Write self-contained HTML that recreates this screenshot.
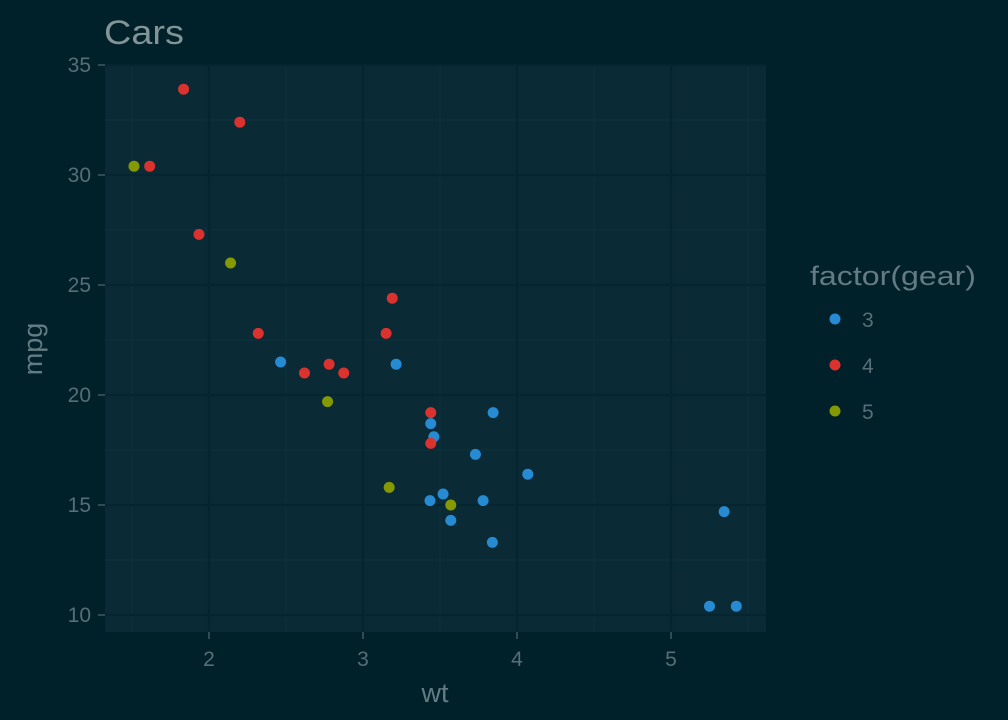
<!DOCTYPE html>
<html><head><meta charset="utf-8"><style>
body{margin:0;background:#00202a;}
svg{display:block;font-family:"Liberation Sans",sans-serif;}
</style></head><body>
<svg id="c" width="1008" height="720">
<rect x="0" y="0" width="1008" height="720" fill="#00202a"/>
<rect x="105" y="65" width="661" height="567" fill="#0a2a35"/>
<g id="grid"></g>
<g id="axes"></g>
<g id="pts"></g>
<text x="104" y="44" font-size="34" textLength="80" lengthAdjust="spacingAndGlyphs" fill="#839496">Cars</text>
<text x="435" y="702" font-size="27" fill="#657b83" text-anchor="middle">wt</text>
<text transform="translate(42,349) rotate(-90)" font-size="27" fill="#657b83" text-anchor="middle">mpg</text>
<g>
<text x="810" y="285" font-size="27" textLength="166" lengthAdjust="spacingAndGlyphs" fill="#657b83">factor(gear)</text>
<g id="leg"></g>
</g>
</svg>
<script>
const wt=[2.620,2.875,2.320,3.215,3.440,3.460,3.570,3.190,3.150,3.440,3.440,4.070,3.730,3.780,5.250,5.424,5.345,2.200,1.615,1.835,2.465,3.520,3.435,3.840,3.845,1.935,2.140,1.513,3.170,2.770,3.570,2.780];
const mpg=[21.0,21.0,22.8,21.4,18.7,18.1,14.3,24.4,22.8,19.2,17.8,16.4,17.3,15.2,10.4,10.4,14.7,32.4,30.4,33.9,21.5,15.5,15.2,13.3,19.2,27.3,26.0,30.4,15.8,19.7,15.0,21.4];
const gear=[4,4,4,3,3,3,3,4,4,4,4,3,3,3,3,3,3,4,4,4,3,3,3,3,3,4,5,5,5,5,5,4];
const xTicks=[2,3,4,5];
const yTicks=[10,15,20,25,30,35];
const levels=[3,4,5];
const colors={3:"#268bd2",4:"#dc322f",5:"#859900"};
const X=v=>154*v-99, Y=v=>615-22*(v-10);
const NS="http://www.w3.org/2000/svg";
function mk(t,a,p){const e=document.createElementNS(NS,t);for(const k in a)e.setAttribute(k,a[k]);p.appendChild(e);return e;}
const grid=document.getElementById('grid'),axes=document.getElementById('axes'),pts=document.getElementById('pts'),leg=document.getElementById('leg');
[1.5,2.5,3.5,4.5,5.5].forEach(v=>{const l=mk('line',{x1:X(v),x2:X(v),y1:65,y2:632,stroke:'#0e313c','stroke-width':1.2},grid);

});
[12.5,17.5,22.5,27.5,32.5].forEach(v=>{const l=mk('line',{x1:105,x2:766,y1:Y(v),y2:Y(v),stroke:'#0e313c','stroke-width':1.2},grid);

});
xTicks.forEach(v=>{const l=mk('line',{x1:X(v),x2:X(v),y1:65,y2:632,stroke:'#052530','stroke-width':2.2},grid);


const t=mk('line',{x1:X(v),x2:X(v),y1:632,y2:639,stroke:'#3d5a63','stroke-width':1.5},axes);


const tx=mk('text',{x:X(v),y:666,'font-size':21,fill:'#586e75','text-anchor':'middle'},axes);tx.textContent=v;

});
yTicks.forEach(v=>{const l=mk('line',{x1:105,x2:766,y1:Y(v),y2:Y(v),stroke:'#052530','stroke-width':2.2},grid);


const t=mk('line',{x1:98,x2:105,y1:Y(v),y2:Y(v),stroke:'#3d5a63','stroke-width':1.5},axes);


const tx=mk('text',{x:91,y:Y(v)+7,'font-size':21,fill:'#586e75','text-anchor':'end'},axes);tx.textContent=v;

});
wt.forEach((w,i)=>{const c=mk('circle',{cx:X(w),cy:Y(mpg[i]),r:5.5,fill:colors[gear[i]]},pts);

});
levels.forEach((g,i)=>{const y=319+46*i;
const c=mk('circle',{cx:835,cy:y,r:5.5,fill:colors[g]},leg);


const t=mk('text',{x:862,y:y+8,'font-size':21,fill:'#586e75'},leg);t.textContent=g;

});
</script>
</body></html>
